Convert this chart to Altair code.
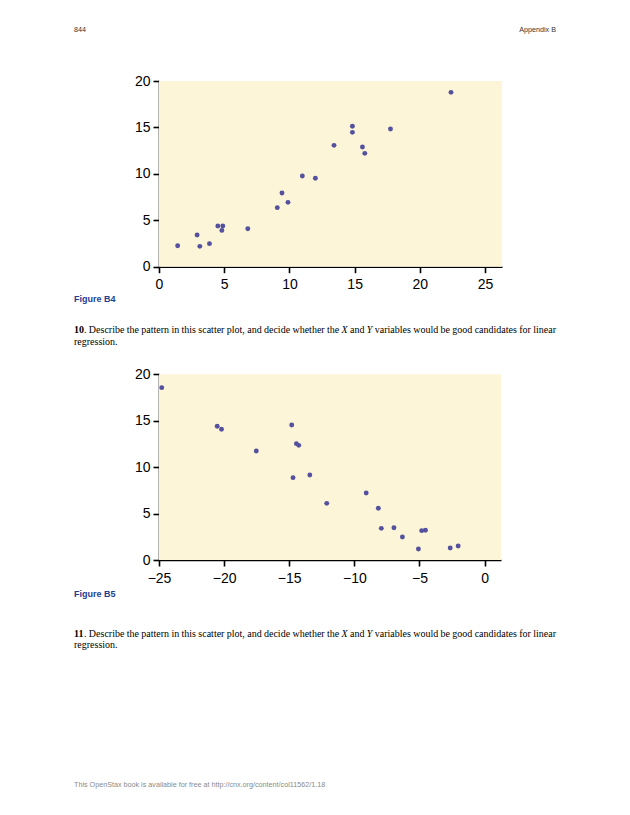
import altair as alt
import pandas as pd

# ---------------- data ----------------
b4_x = [1.43, 2.92, 3.13, 3.87, 4.51, 4.89, 4.82, 6.81, 9.07, 9.43, 9.89, 10.99,
        11.99, 13.42, 14.83, 14.83, 15.60, 15.78, 17.75, 22.39]
b4_y = [2.26, 3.41, 2.19, 2.48, 4.38, 4.38, 3.91, 4.09, 6.36, 7.94, 6.93, 9.77,
        9.52, 13.07, 15.12, 14.47, 12.89, 12.21, 14.83, 18.78]

b5_x = [-24.79, -20.53, -20.20, -17.53, -14.81, -14.71, -14.45, -14.27, -13.42,
        -12.12, -9.09, -8.16, -7.93, -6.96, -6.31, -5.08, -4.83, -4.54, -2.64, -2.03]
b5_y = [18.56, 14.40, 14.08, 11.74, 14.54, 8.87, 12.53, 12.35, 9.16,
        6.10, 7.22, 5.57, 3.41, 3.48, 2.48, 1.18, 3.16, 3.20, 1.29, 1.51]

b4_xticks = [0, 5, 10, 15, 20, 25]
b5_xticks = [-25, -20, -15, -10, -5, 0]
yticks = [0, 5, 10, 15, 20]
b4_xdomain = [0, 26.3]
b5_xdomain = [-25, 1.26]
ydomain = [0, 20]

question_words = ["Describe", "the", "pattern", "in", "this", "scatter", "plot,",
                  "and", "decide", "whether", "the", "*X", "and", "*Y", "variables",
                  "would", "be", "good", "candidates", "for", "linear"]
question_tail = "regression."

# ---------------- style ----------------
W, H = 614, 799
BG = "#fdf5d7"
DOT = "#54519e"
BLUE = "#25408f"
SANS = "Liberation Sans"
SERIF = "Liberation Serif"
PSIZE = 10.0

# Times (Liberation Serif) advance widths, per 1000 em
_W = dict(zip(" ,./:0123456789", [250, 250, 250, 278, 278] + [500] * 10))
_W.update(zip("abcdefghijklmnopqrstuvwxyz",
              [444, 500, 444, 500, 444, 333, 500, 500, 278, 278, 500, 278, 778,
               500, 500, 500, 500, 333, 389, 278, 500, 500, 722, 500, 500, 444]))
_W.update(zip("ABCDEFGHIJKLMNOPQRSTUVWXYZ",
              [722, 667, 667, 722, 611, 556, 722, 722, 333, 389, 722, 611, 889,
               722, 722, 556, 722, 667, 556, 611, 722, 722, 944, 722, 722, 611]))
_ITAL = {"X": 611, "Y": 556}


def wlen(s, italic=False):
    tab = _ITAL if italic else {}
    return sum(tab.get(c, _W.get(c, 500)) for c in s) * PSIZE / 1000.0


def panel(xs, ys, xdom, xrange, yrange, xticks):
    df = pd.DataFrame({"x": xs, "y": ys})
    bgdf = pd.DataFrame({"x": [xdom[0]], "x2": [xdom[1]],
                         "y": [ydomain[0]], "y2": [ydomain[1]]})
    xscale = alt.Scale(domain=xdom, range=xrange, nice=False, zero=False)
    yscale = alt.Scale(domain=ydomain, range=yrange, nice=False, zero=False)
    common = dict(domainColor="black", domainWidth=1.6, tickColor="black",
                  tickWidth=1.6, tickSize=6, grid=False, title=None,
                  labelFont=SANS, labelFontSize=14, labelColor="black")
    xaxis = alt.Axis(orient="bottom", offset=yrange[0] - H, values=xticks,
                     labelPadding=5, labelFlush=False, labelOverlap=False,
                     **common)
    yaxis = alt.Axis(orient="left", offset=-xrange[0], values=yticks,
                     labelPadding=3, labelOverlap=False, **common)
    bg = alt.Chart(bgdf).mark_rect(color=BG).encode(
        x=alt.X("x:Q", scale=xscale, axis=xaxis),
        x2="x2:Q",
        y=alt.Y("y:Q", scale=yscale, axis=yaxis),
        y2="y2:Q",
    )
    pts = alt.Chart(df).mark_circle(color=DOT, opacity=1, size=24).encode(
        x=alt.X("x:Q", scale=xscale, axis=xaxis),
        y=alt.Y("y:Q", scale=yscale, axis=yaxis),
    )
    return alt.layer(bg, pts)


def txt(s, x, y, font=SERIF, size=PSIZE, align="left", weight="normal",
        style="normal", color="black"):
    return alt.Chart(pd.DataFrame({"t": [s]})).mark_text(
        align=align, baseline="alphabetic", font=font, fontSize=size,
        fontWeight=weight, fontStyle=style, color=color,
    ).encode(x=alt.value(x), y=alt.value(y), text="t:N")


p1 = panel(b4_x, b4_y, b4_xdomain, [151, 494], [258.7, 73], b4_xticks)
p2 = panel(b5_x, b5_y, b5_xdomain, [151, 493], [552, 366.3], b5_xticks)

LEFT, RIGHT = 66.0, 548.0


def paragraph(num, y1, y2):
    # first "word" is the bold number followed by a period
    words = [(num + ".", False)] + [(w[1:], True) if w.startswith("*") else (w, False)
                                    for w in question_words]
    widths = [wlen(w, it) for w, it in words]
    gap = (RIGHT - LEFT - sum(widths)) / (len(words) - 1)
    out = []
    x = LEFT
    for (w, it), wd in zip(words, widths):
        if w == num + ".":
            out.append(txt(num, x, y1, weight="bold"))
            out.append(txt(".", x + wlen(num), y1))
        else:
            out.append(txt(w, x, y1, style="italic" if it else "normal"))
        x += wd + gap
    out.append(txt(question_tail, LEFT, y2))
    return out


texts = [
    txt("844", 66, 24.3, font=SANS, size=7.2, color="#333333"),
    txt("Appendix B", 548, 24.3, font=SANS, size=7.2, align="right", color="#333333"),
    txt("Figure B4", 66, 293.5, font=SANS, size=9, weight="bold", color=BLUE),
    txt("Figure B5", 66, 588.5, font=SANS, size=9, weight="bold", color=BLUE),
    txt("This OpenStax book is available for free at http://cnx.org/content/col11562/1.18",
        66, 779, font=SANS, size=7.2, color="#8a8a8a"),
]
texts += paragraph("10", 324.5, 336.5)
texts += paragraph("11", 628.7, 640.2)

chart = alt.layer(p1, p2, *texts).resolve_scale(
    x="independent", y="independent"
).resolve_axis(
    x="independent", y="independent"
).properties(
    width=W, height=H, padding=0,
    autosize=alt.AutoSizeParams(type="none"),
).configure_view(stroke=None)

chart.save("out.html", embed_options={"renderer": "svg", "actions": False})
